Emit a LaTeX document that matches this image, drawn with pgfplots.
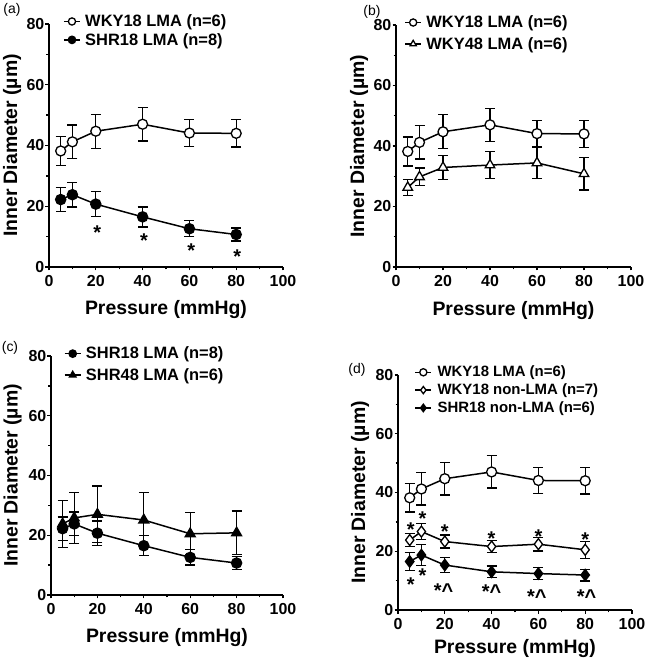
\documentclass[border=0pt]{standalone}
\usepackage{fontspec}
\setmainfont{Liberation Sans}
\usepackage{pgfplots}
\usepackage{pgfplotstable}
\pgfplotsset{compat=1.18}

\pgfplotstableread{
x y e
5 38.2 4.8
10 41.2 5.5
20 44.7 5.6
40 47.0 5.5
60 44.1 4.4
80 44.0 4.5
}\wkyLMA
\pgfplotstableread{
x y e
5 22.2 3.9
10 23.8 4.0
20 20.7 4.1
40 16.5 3.3
60 12.6 2.6
80 10.7 2.1
}\shrLMA
\pgfplotstableread{
x y e
5 26.3 2.7
10 29.8 2.9
20 32.9 3.9
40 33.7 4.5
60 34.4 5.2
80 30.8 5.3
}\wkyFE
\pgfplotstableread{
x y e
5 23.8 7.8
10 25.8 8.6
20 27.0 9.5
40 25.1 9.3
60 20.5 7.0
80 20.8 7.3
}\shrFE
\pgfplotstableread{
x y e
5 23.8 2.3
10 26.7 2.8
20 23.3 2.2
40 21.6 2.0
60 22.4 2.3
80 20.5 2.9
}\wkyNon
\pgfplotstableread{
x y e
5 16.5 3.0
10 18.7 3.5
20 15.3 2.6
40 13.0 2.0
60 12.4 2.1
80 11.9 2.0
}\shrNon

\pgfplotsset{
  myaxis/.style={
    scale only axis,
    xmin=0, xmax=100, ymin=0, ymax=80,
    axis x line=bottom, axis y line=left,
    axis line style={line width=1.5bp, -},
    xtick={0,20,...,100}, ytick={0,20,...,80},
    minor xtick={10,30,50,70,90}, minor ytick={10,30,50,70},
    tick align=outside,
    major tick length=3.5bp, minor tick length=2.5bp,
    every tick/.style={line width=1.3bp, black},
    /pgf/number format/assume math mode=true,
    tick label style={font=\fontsize{16}{16}\selectfont\bfseries, inner sep=1bp},
    xticklabel style={yshift=-4bp},
    yticklabel style={xshift=0bp},
    xlabel={Pressure (mmHg)},
    ylabel={Inner Diameter (µm)},
    label style={font=\fontsize{19.5}{19.5}\selectfont\bfseries},
    clip=false,
    legend cell align=left,
    legend image code/.code={\draw[mark repeat=2,mark phase=2,mark size=3.6bp] plot coordinates {(0bp,0bp)(8bp,0bp)(16bp,0bp)};},
  },
  errb/.style={black, line width=1.3bp, only marks, mark=none, forget plot,
    error bars/.cd, y dir=both, y explicit, error mark=-,
    error bar style={line width=1.3bp, solid, draw=black},
    error mark options={rotate=90, mark size=5bp, line width=1.3bp, solid, draw=black}},
  ser/.style={black, line width=1.5bp},
  openm/.style={mark options={fill=white, draw=black, solid, line width=1.3bp}},
  fillm/.style={mark options={fill=black, draw=black, solid}},
  ast/.style={draw=none, mark=none, forget plot, nodes near coords, point meta=explicit symbolic,
    nodes near coords style={font=\fontsize{20}{20}\selectfont\bfseries, anchor=center, yshift=-4bp, inner sep=0pt}},
}

\begin{document}
\begin{tikzpicture}
\useasboundingbox (0,0) rectangle (650bp,664bp);

% (a)
\node[font=\fontsize{14}{14}\selectfont] at (12bp,654bp) {(a)};
\begin{axis}[myaxis, at={(49bp,397bp)}, anchor=south west, width=234bp, height=243bp,
  xlabel style={at={(axis description cs:0.5,-0.173)}, anchor=center},
  ylabel style={at={(axis description cs:-0.158,0.5)}, anchor=center},
  legend style={draw=none, fill=none, at={(axis description cs:0.06,1.045)}, anchor=north west,
    font=\fontsize{16.5}{16.5}\selectfont\bfseries, row sep=2bp, column sep=3bp, inner sep=0pt, nodes={inner sep=1.5bp}}]
\addplot[errb] table[x=x,y=y,y error=e] {\wkyLMA};
\addplot[errb] table[x=x,y=y,y error=e] {\shrLMA};
\addplot[ser, mark=*, mark size=5bp, openm] table[x=x,y=y] {\wkyLMA};
\addlegendentry{WKY18 LMA (n=6)}
\addplot[ser, mark=*, mark size=5bp, fillm] table[x=x,y=y] {\shrLMA};
\addlegendentry{SHR18 LMA (n=8)}
\addplot[ast] coordinates {(20.6,12.6) [*] (40.6,9.9) [*] (60.8,6.8) [*] (80.5,4.7) [*]};
\end{axis}

% (b)
\node[font=\fontsize{14}{14}\selectfont] at (372bp,652bp) {(b)};
\begin{axis}[myaxis, at={(396bp,397bp)}, anchor=south west, width=235bp, height=242bp,
  xlabel style={at={(axis description cs:0.5,-0.178)}, anchor=center},
  ylabel style={at={(axis description cs:-0.157,0.5)}, anchor=center},
  legend style={draw=none, fill=none, at={(axis description cs:0.035,1.045)}, anchor=north west,
    font=\fontsize{16.5}{16.5}\selectfont\bfseries, row sep=5bp, column sep=3bp, inner sep=0pt, nodes={inner sep=1.5bp}}]
\addplot[errb] table[x=x,y=y,y error=e] {\wkyLMA};
\addplot[errb] table[x=x,y=y,y error=e] {\wkyFE};
\addplot[ser, mark=*, mark size=5bp, openm] table[x=x,y=y] {\wkyLMA};
\addlegendentry{WKY18 LMA (n=6)}
\addplot[ser, mark=triangle*, mark size=5.5bp, openm] table[x=x,y=y] {\wkyFE};
\addlegendentry{WKY48 LMA (n=6)}
\end{axis}

% (c)
\node[font=\fontsize{14}{14}\selectfont] at (10bp,316bp) {(c)};
\begin{axis}[myaxis, at={(51bp,69bp)}, anchor=south west, width=232bp, height=239bp,
  xlabel style={at={(axis description cs:0.5,-0.18)}, anchor=center},
  ylabel style={at={(axis description cs:-0.166,0.5)}, anchor=center},
  legend style={draw=none, fill=none, at={(axis description cs:0.055,1.045)}, anchor=north west,
    font=\fontsize{16.5}{16.5}\selectfont\bfseries, row sep=5bp, column sep=3bp, inner sep=0pt, nodes={inner sep=1.5bp}}]
\addplot[errb] table[x=x,y=y,y error=e] {\shrLMA};
\addplot[errb] table[x=x,y=y,y error=e] {\shrFE};
\addplot[ser, mark=*, mark size=5bp, fillm] table[x=x,y=y] {\shrLMA};
\addlegendentry{SHR18 LMA (n=8)}
\addplot[ser, mark=triangle*, mark size=5.5bp, fillm] table[x=x,y=y] {\shrFE};
\addlegendentry{SHR48 LMA (n=6)}
\end{axis}

% (d)
\node[font=\fontsize{14}{14}\selectfont] at (357bp,294bp) {(d)};
\begin{axis}[myaxis, at={(398bp,54bp)}, anchor=south west, width=234bp, height=235bp,
  xlabel style={at={(axis description cs:0.5,-0.166)}, anchor=center},
  ylabel style={at={(axis description cs:-0.162,0.5)}, anchor=center},
  legend style={draw=none, fill=none, at={(axis description cs:0.07,1.045)}, anchor=north west,
    font=\fontsize{15}{15}\selectfont\bfseries, row sep=2.5bp, column sep=4bp, inner sep=0pt, nodes={inner sep=1.5bp}}]
\addplot[errb] table[x=x,y=y,y error=e] {\wkyLMA};
\addplot[errb] table[x=x,y=y,y error=e] {\wkyNon};
\addplot[errb] table[x=x,y=y,y error=e] {\shrNon};
\addplot[ser, mark=*, mark size=5bp, openm] table[x=x,y=y] {\wkyLMA};
\addlegendentry{WKY18 LMA (n=6)}
\addplot[ser, mark=diamond*, mark size=5.5bp, openm] table[x=x,y=y] {\wkyNon};
\addlegendentry{WKY18 non-LMA (n=7)}
\addplot[ser, mark=diamond*, mark size=5.5bp, fillm] table[x=x,y=y] {\shrNon};
\addlegendentry{SHR18 non-LMA (n=6)}
\addplot[ast] coordinates {(5.5,28.7) [*] (10.5,32.3) [*] (20,27.9) [*] (40,25.5) [*] (60,26.2) [*] (80,25.3) [*]};
\addplot[ast] coordinates {(5.5,10.0) [*] (10.5,13.0) [*] (19.5,8.1) [*\textasciicircum] (40,7.6) [*\textasciicircum] (59.3,5.8) [*\textasciicircum] (80.6,5.8) [*\textasciicircum]};
\end{axis}
\end{tikzpicture}
\end{document}
